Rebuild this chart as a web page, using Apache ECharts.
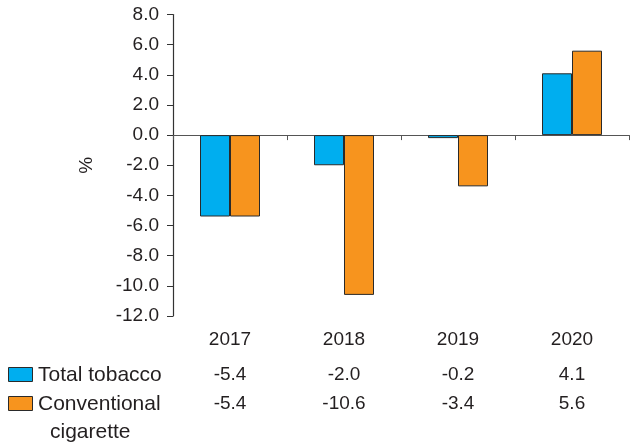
<!DOCTYPE html>
<html><head><meta charset="utf-8">
<script src="https://cdn.jsdelivr.net/npm/echarts@6/dist/echarts.min.js"></script>
<style>html,body{margin:0;padding:0;background:#fff}#c{width:636px;height:445px}</style>
</head><body><div id="c"></div>
<script>
const categories = ['2017', '2018', '2019', '2020'];
const totalTobacco = [-5.4, -2.0, -0.2, 4.1];
const conventionalCigarette = [-5.4, -10.6, -3.4, 5.6];
const seriesNames = ['Total tobacco', 'Conventional\ncigarette'];
const yTicks = { min: -12, max: 8, interval: 2 };

const FONT = '"Liberation Sans", Arial, sans-serif';
const TXT = '#231f20';
const BLUE = '#00aeef';
const ORANGE = '#f7941e';

const chart = echarts.init(document.getElementById('c'), null, { renderer: 'canvas' });
const gridLeft = 173, gridTop = 14.5, gridW = 456, gridH = 301.5;

chart.setOption({
  animation: false,
  backgroundColor: '#fff',
  grid: { left: gridLeft, top: gridTop, width: gridW, height: gridH },
  xAxis: [{
    type: 'category', data: categories,
    axisLine: { onZero: true, lineStyle: { color: '#555', width: 1.2 } },
    axisTick: { show: true, inside: false, length: 5, alignWithLabel: false, lineStyle: { color: '#555' } },
    axisLabel: { show: false }, splitLine: { show: false }
  }, {
    type: 'category', data: categories, position: 'bottom',
    axisLine: { show: false, onZero: false }, axisTick: { show: false },
    axisLabel: { show: true, margin: 14, fontFamily: FONT, fontSize: 19, color: TXT }
  }],
  yAxis: {
    type: 'value', min: yTicks.min, max: yTicks.max, interval: yTicks.interval,
    name: '%', nameLocation: 'middle', nameGap: 77, nameRotate: 90,
    nameTextStyle: { fontFamily: FONT, fontSize: 19, color: TXT },
    axisLine: { show: true, lineStyle: { color: '#333', width: 1.2 } },
    axisTick: { show: true, length: 6, lineStyle: { color: '#333' } },
    axisLabel: { formatter: v => v.toFixed(1), margin: 14, fontFamily: FONT, fontSize: 19, color: TXT },
    splitLine: { show: false }
  },
  series: [{
    name: seriesNames[0], type: 'bar', data: totalTobacco, barWidth: 30, barGap: '0%',
    itemStyle: { color: BLUE, borderColor: '#2a2a2a', borderWidth: 1 }
  }, {
    name: seriesNames[1], type: 'bar', data: conventionalCigarette, barWidth: 30, barGap: '0%',
    itemStyle: { color: ORANGE, borderColor: '#2a2a2a', borderWidth: 1 }
  }]
});

// data table below the chart
const rows = [totalTobacco, conventionalCigarette];
const rowY = [375, 404];
const colors = [BLUE, ORANGE];
const elements = [];
rows.forEach((vals, r) => {
  elements.push({
    type: 'rect', shape: { x: 8.5, y: rowY[r] - 7.5, width: 24, height: 14 },
    style: { fill: colors[r], stroke: '#2a2a2a', lineWidth: 1 }
  });
  const lines = seriesNames[r].split('\n');
  lines.forEach((ln, i) => {
    elements.push({
      type: 'text', x: i === 0 ? 38 : 50, y: rowY[r] + i * 28,
      style: { text: ln, font: '21px ' + FONT, fill: TXT, textAlign: 'left', textVerticalAlign: 'middle' }
    });
  });
  vals.forEach((v, c) => {
    const px = chart.convertToPixel({ xAxisIndex: 0 }, categories[c]);
    elements.push({
      type: 'text', x: px, y: rowY[r],
      style: { text: v.toFixed(1), font: '19px ' + FONT, fill: TXT, textAlign: 'center', textVerticalAlign: 'middle' }
    });
  });
});
chart.setOption({ graphic: { elements } });
</script></body></html>
